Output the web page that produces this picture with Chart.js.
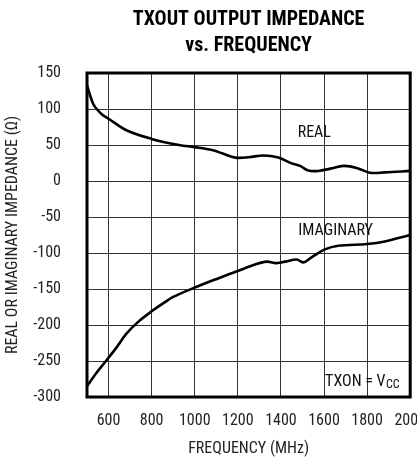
<!DOCTYPE html>
<html>
<head>
<meta charset="utf-8">
<script src="https://cdn.jsdelivr.net/npm/chart.js@4/dist/chart.umd.min.js"></script>
<style>
  html, body { margin: 0; padding: 0; width: 417px; height: 457px; overflow: hidden; background: #fff; }
  #wrap { position: absolute; left: 0; top: 0; width: 440px; height: 457px; }
</style>
</head>
<body>
<div id="wrap"><canvas id="c"></canvas></div>
<script>
// ---- data ----
const realFreq = [500, 511, 529, 545, 571, 600, 683, 800, 927, 1000, 1080, 1127, 1188, 1250, 1319, 1388, 1450, 1489, 1527, 1573, 1635, 1697, 1758, 1812, 1882, 2000];
const realVal  = [133, 122, 107, 100, 92, 86.5, 70.5, 58.5, 50, 47, 43, 38.5, 32.5, 33, 35.5, 32.5, 24.5, 21, 14.5, 14, 17.5, 21, 17.5, 11.5, 12, 14];
const imagFreq = [500, 540, 588, 640, 683, 740, 800, 853, 900, 1000, 1111, 1200, 1280, 1334, 1373, 1419, 1473, 1504, 1542, 1604, 1666, 1800, 1882, 2000];
const imagVal  = [-285, -268, -250, -230, -212, -195, -181, -170, -161, -148, -135, -125, -116, -112, -114, -112, -109, -113, -106, -95, -90, -87.5, -84, -75];
const xTickValues = [600, 800, 1000, 1200, 1400, 1600, 1800, 2000];
const seriesNames = ['REAL', 'IMAGINARY'];
const titleLines = ['TXOUT OUTPUT IMPEDANCE', 'vs. FREQUENCY'];
const xTitle = 'FREQUENCY (MHz)';
const yTitle = 'REAL OR IMAGINARY IMPEDANCE (\u03A9)';

const FONT = "'Roboto Condensed', 'DejaVu Sans Condensed', sans-serif";

const toPts = (xs, ys) => xs.map((x, i) => ({ x: x, y: ys[i] }));

const annotPlugin = {
  id: 'annot',
  afterDatasetsDraw(chart) {
    const { ctx, chartArea: a, scales: { x, y } } = chart;
    ctx.save();
    // frame
    ctx.strokeStyle = '#000';
    ctx.lineWidth = 3;
    ctx.strokeRect(a.left, a.top, a.right - a.left, a.bottom - a.top);
    // series labels
    ctx.fillStyle = '#111';
    ctx.font = '16px ' + FONT;
    ctx.textBaseline = 'middle';
    ctx.textAlign = 'center';
    ctx.fillText(seriesNames[0], x.getPixelForValue(1555), y.getPixelForValue(66.7));
    ctx.fillText(seriesNames[1], x.getPixelForValue(1654), y.getPixelForValue(-69));
    // TXON = VCC (right aligned)
    const rx = x.getPixelForValue(1951), ry = y.getPixelForValue(-278.7);
    ctx.font = '12px ' + FONT;
    const wSub = ctx.measureText('CC').width;
    ctx.textAlign = 'right';
    ctx.fillText('CC', rx, ry + 3);
    ctx.font = '16px ' + FONT;
    ctx.fillText('TXON = V', rx - wSub - 0.5, ry);
    ctx.restore();
  }
};

new Chart(document.getElementById('c'), {
  type: 'line',
  data: {
    datasets: [
      { label: seriesNames[0], data: toPts(realFreq, realVal) },
      { label: seriesNames[1], data: toPts(imagFreq, imagVal) }
    ]
  },
  options: {
    responsive: true,
    maintainAspectRatio: false,
    animation: false,
    devicePixelRatio: 1,
    layout: { padding: { left: 0, right: 28, top: 0, bottom: 0 } },
    elements: {
      line: { borderColor: '#000', borderWidth: 2.6, tension: 0.35, fill: false },
      point: { radius: 0, hoverRadius: 0 }
    },
    plugins: {
      legend: { display: false },
      tooltip: { enabled: false },
      title: {
        display: true,
        fullSize: false,
        text: titleLines,
        color: '#000',
        font: { family: FONT, size: 20, weight: 'bold', lineHeight: 1.3 },
        padding: { top: 7, bottom: 14 }
      }
    },
    scales: {
      x: {
        type: 'linear',
        min: 500,
        max: 2000,
        afterBuildTicks(scale) { scale.ticks = xTickValues.map(v => ({ value: v })); },
        afterFit(scale) { scale.height = 60; },
        border: { display: false },
        grid: { color: '#333', lineWidth: 1, drawTicks: false },
        ticks: { color: '#222', padding: 14, maxRotation: 0, autoSkip: false, font: { family: FONT, size: 16 },
                 callback: v => String(v) },
        title: { display: true, text: xTitle, color: '#222', font: { family: FONT, size: 16 }, padding: { top: 0, bottom: -2 } }
      },
      y: {
        type: 'linear',
        min: -300,
        max: 150,
        afterFit(scale) { scale.width = 87; },
        border: { display: false },
        grid: { color: '#333', lineWidth: 1, drawTicks: false },
        ticks: { stepSize: 50, color: '#222', padding: 26, font: { family: FONT, size: 16 },
                 callback: v => String(v) },
        title: { display: true, text: yTitle, color: '#222', font: { family: FONT, size: 16 }, padding: { top: 3, bottom: 0 } }
      }
    }
  },
  plugins: [annotPlugin]
});
</script>
</body>
</html>
